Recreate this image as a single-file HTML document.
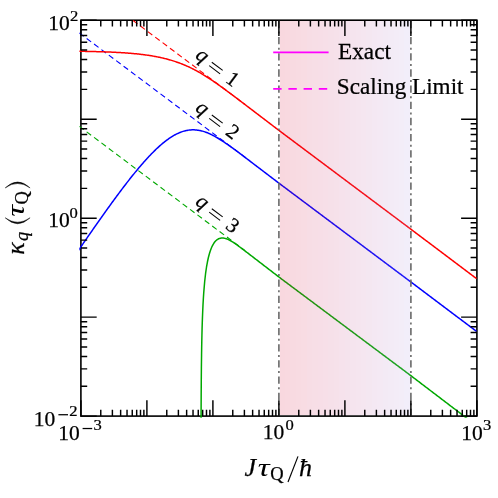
<!DOCTYPE html>
<html><head><meta charset="utf-8"><title>chart</title>
<style>
html,body{margin:0;padding:0;background:#fff;}
svg{display:block;will-change:transform;}
text{font-family:"Liberation Serif",serif;fill:#000;stroke:#000;stroke-width:0.25px;}
</style></head><body>
<svg width="498" height="498" viewBox="0 0 498 498">
<rect x="0" y="0" width="498" height="498" fill="#fff"/>
<defs><clipPath id="cp"><rect x="79.30" y="19.00" width="399.20" height="398.70"/></clipPath></defs>
<rect x="80.90" y="20.20" width="396.00" height="395.90" fill="none" stroke="#000" stroke-width="1.6"/>
<g clip-path="url(#cp)" fill="none" stroke-linejoin="round">
<g stroke-width="1.1" stroke-dasharray="5.6 3.63">
<path d="M81.36 -18.25 L245.00 104.44" stroke="#ff0000"/>
<path d="M79.28 32.97 L245.00 157.23" stroke="#0000ff"/>
<path d="M79.28 126.32 L245.00 250.58" stroke="#00a800"/>
</g>
<g stroke-width="1.5">
<path d="M79.20 51.28 L80.00 51.29 L80.79 51.30 L81.59 51.32 L82.38 51.33 L83.18 51.34 L83.98 51.36 L84.77 51.37 L85.57 51.38 L86.37 51.40 L87.16 51.41 L87.96 51.43 L88.75 51.44 L89.55 51.46 L90.35 51.48 L91.14 51.49 L91.94 51.51 L92.74 51.53 L93.53 51.55 L94.33 51.57 L95.12 51.59 L95.92 51.61 L96.72 51.63 L97.51 51.65 L98.31 51.67 L99.10 51.69 L99.90 51.72 L100.70 51.74 L101.49 51.77 L102.29 51.79 L103.09 51.82 L103.88 51.84 L104.68 51.87 L105.47 51.90 L106.27 51.93 L107.07 51.96 L107.86 51.99 L108.66 52.02 L109.46 52.05 L110.25 52.09 L111.05 52.12 L111.84 52.15 L112.64 52.19 L113.44 52.23 L114.23 52.27 L115.03 52.30 L115.82 52.34 L116.62 52.39 L117.42 52.43 L118.21 52.47 L119.01 52.52 L119.81 52.56 L120.60 52.61 L121.40 52.66 L122.19 52.71 L122.99 52.76 L123.79 52.81 L124.58 52.86 L125.38 52.92 L126.18 52.98 L126.97 53.03 L127.77 53.09 L128.56 53.16 L129.36 53.22 L130.16 53.28 L130.95 53.35 L131.75 53.42 L132.54 53.49 L133.34 53.56 L134.14 53.63 L134.93 53.71 L135.73 53.79 L136.53 53.87 L137.32 53.95 L138.12 54.04 L138.91 54.12 L139.71 54.21 L140.51 54.30 L141.30 54.40 L142.10 54.49 L142.90 54.59 L143.69 54.69 L144.49 54.79 L145.28 54.90 L146.08 55.01 L146.88 55.12 L147.67 55.24 L148.47 55.35 L149.26 55.48 L150.06 55.60 L150.86 55.73 L151.65 55.86 L152.45 55.99 L153.25 56.13 L154.04 56.27 L154.84 56.41 L155.63 56.56 L156.43 56.71 L157.23 56.87 L158.02 57.02 L158.82 57.19 L159.62 57.35 L160.41 57.52 L161.21 57.70 L162.00 57.88 L162.80 58.06 L163.60 58.25 L164.39 58.44 L165.19 58.64 L165.98 58.84 L166.78 59.05 L167.58 59.26 L168.37 59.47 L169.17 59.70 L169.97 59.92 L170.76 60.15 L171.56 60.39 L172.35 60.63 L173.15 60.88 L173.95 61.13 L174.74 61.39 L175.54 61.65 L176.34 61.92 L177.13 62.20 L177.93 62.48 L178.72 62.76 L179.52 63.06 L180.32 63.35 L181.11 63.66 L181.91 63.97 L182.71 64.29 L183.50 64.61 L184.30 64.94 L185.09 65.28 L185.89 65.62 L186.69 65.97 L187.48 66.32 L188.28 66.69 L189.07 67.05 L189.87 67.43 L190.67 67.81 L191.46 68.20 L192.26 68.59 L193.06 68.99 L193.85 69.40 L194.65 69.81 L195.44 70.23 L196.24 70.66 L197.04 71.09 L197.83 71.53 L198.63 71.98 L199.43 72.43 L200.22 72.89 L201.02 73.35 L201.81 73.82 L202.61 74.30 L203.41 74.78 L204.20 75.27 L205.00 75.76 L205.79 76.26 L206.59 76.76 L207.39 77.27 L208.18 77.79 L208.98 78.31 L209.78 78.83 L210.57 79.36 L211.37 79.89 L212.16 80.43 L212.96 80.97 L213.76 81.51 L214.55 82.06 L215.35 82.62 L216.15 83.17 L216.94 83.73 L217.74 84.29 L218.53 84.86 L219.33 85.43 L220.13 86.00 L220.92 86.57 L221.72 87.15 L222.51 87.72 L223.31 88.30 L224.11 88.88 L224.90 89.47 L225.70 90.05 L226.50 90.64 L227.29 91.23 L228.09 91.81 L228.88 92.40 L229.68 92.99 L230.48 93.59 L231.27 94.18 L232.07 94.77 L232.87 95.36 L233.66 95.96 L234.46 96.55 L235.25 97.15 L236.05 97.75 L236.85 98.36 L237.64 98.96 L238.44 99.57 L239.23 100.17 L240.03 100.78 L240.83 101.38 L241.62 101.99 L242.42 102.59 L243.22 103.20 L244.01 103.81 L244.81 104.41 L245.60 105.02 L246.40 105.62 L247.20 106.23 L247.99 106.84 L248.79 107.44 L249.59 108.05 L250.38 108.65 L251.18 109.26 L251.97 109.87 L252.77 110.47 L253.57 111.08 L254.36 111.68 L255.16 112.29 L255.95 112.90 L256.75 113.50 L257.55 114.11 L258.34 114.71 L259.14 115.32 L259.94 115.93 L260.73 116.53 L261.53 117.14 L262.32 117.74 L263.12 118.35 L263.92 118.96 L264.71 119.56 L265.51 120.17 L266.31 120.77 L267.10 121.38 L267.90 121.99 L268.69 122.59 L269.49 123.20 L270.29 123.80 L271.08 124.41 L271.88 125.02 L272.67 125.62 L273.47 126.23 L274.27 126.84 L275.06 127.44 L275.86 128.05 L276.66 128.65 L277.45 129.26 L278.25 129.87 L279.04 130.47 L279.84 131.07 L280.64 131.66 L281.43 132.26 L282.23 132.86 L283.03 133.45 L283.82 134.05 L284.62 134.64 L285.41 135.24 L286.21 135.84 L287.01 136.43 L287.80 137.03 L288.60 137.63 L289.39 138.22 L290.19 138.82 L290.99 139.41 L291.78 140.01 L292.58 140.61 L293.38 141.20 L294.17 141.80 L294.97 142.40 L295.76 142.99 L296.56 143.59 L297.36 144.18 L298.15 144.78 L298.95 145.38 L299.75 145.97 L300.54 146.57 L301.34 147.16 L302.13 147.76 L302.93 148.36 L303.73 148.95 L304.52 149.55 L305.32 150.15 L306.11 150.74 L306.91 151.34 L307.71 151.93 L308.50 152.53 L309.30 153.13 L310.10 153.72 L310.89 154.32 L311.69 154.92 L312.48 155.51 L313.28 156.11 L314.08 156.70 L314.87 157.30 L315.67 157.90 L316.47 158.49 L317.26 159.09 L318.06 159.69 L318.85 160.28 L319.65 160.88 L320.45 161.47 L321.24 162.07 L322.04 162.67 L322.83 163.26 L323.63 163.86 L324.43 164.45 L325.22 165.05 L326.02 165.65 L326.82 166.24 L327.61 166.84 L328.41 167.44 L329.20 168.03 L330.00 168.63 L330.80 169.22 L331.59 169.82 L332.39 170.42 L333.19 171.01 L333.98 171.61 L334.78 172.21 L335.57 172.80 L336.37 173.40 L337.17 173.99 L337.96 174.59 L338.76 175.19 L339.55 175.78 L340.35 176.38 L341.15 176.98 L341.94 177.57 L342.74 178.17 L343.54 178.76 L344.33 179.36 L345.13 179.96 L345.92 180.55 L346.72 181.15 L347.52 181.74 L348.31 182.34 L349.11 182.94 L349.91 183.53 L350.70 184.13 L351.50 184.73 L352.29 185.32 L353.09 185.92 L353.89 186.51 L354.68 187.11 L355.48 187.71 L356.27 188.30 L357.07 188.90 L357.87 189.50 L358.66 190.09 L359.46 190.69 L360.26 191.28 L361.05 191.88 L361.85 192.48 L362.64 193.07 L363.44 193.67 L364.24 194.27 L365.03 194.86 L365.83 195.46 L366.63 196.05 L367.42 196.65 L368.22 197.25 L369.01 197.84 L369.81 198.44 L370.61 199.03 L371.40 199.63 L372.20 200.23 L372.99 200.82 L373.79 201.42 L374.59 202.02 L375.38 202.61 L376.18 203.21 L376.98 203.80 L377.77 204.40 L378.57 205.00 L379.36 205.59 L380.16 206.19 L380.96 206.79 L381.75 207.38 L382.55 207.98 L383.35 208.57 L384.14 209.17 L384.94 209.77 L385.73 210.36 L386.53 210.96 L387.33 211.56 L388.12 212.15 L388.92 212.75 L389.72 213.34 L390.51 213.94 L391.31 214.54 L392.10 215.13 L392.90 215.73 L393.70 216.32 L394.49 216.92 L395.29 217.52 L396.08 218.11 L396.88 218.71 L397.68 219.31 L398.47 219.90 L399.27 220.50 L400.07 221.09 L400.86 221.69 L401.66 222.29 L402.45 222.88 L403.25 223.48 L404.05 224.08 L404.84 224.67 L405.64 225.27 L406.44 225.86 L407.23 226.46 L408.03 227.06 L408.82 227.65 L409.62 228.25 L410.42 228.85 L411.21 229.44 L412.01 230.04 L412.80 230.64 L413.60 231.24 L414.40 231.84 L415.19 232.44 L415.99 233.04 L416.79 233.64 L417.58 234.24 L418.38 234.83 L419.17 235.43 L419.97 236.03 L420.77 236.63 L421.56 237.23 L422.36 237.83 L423.16 238.43 L423.95 239.03 L424.75 239.63 L425.54 240.23 L426.34 240.83 L427.14 241.43 L427.93 242.02 L428.73 242.62 L429.52 243.22 L430.32 243.82 L431.12 244.42 L431.91 245.02 L432.71 245.62 L433.51 246.22 L434.30 246.82 L435.10 247.42 L435.89 248.02 L436.69 248.62 L437.49 249.21 L438.28 249.81 L439.08 250.41 L439.88 251.01 L440.67 251.61 L441.47 252.21 L442.26 252.81 L443.06 253.41 L443.86 254.01 L444.65 254.61 L445.45 255.21 L446.24 255.81 L447.04 256.40 L447.84 257.00 L448.63 257.60 L449.43 258.20 L450.23 258.80 L451.02 259.40 L451.82 260.00 L452.61 260.60 L453.41 261.20 L454.21 261.80 L455.00 262.40 L455.80 263.00 L456.60 263.59 L457.39 264.19 L458.19 264.79 L458.98 265.39 L459.78 265.99 L460.58 266.59 L461.37 267.19 L462.17 267.79 L462.96 268.39 L463.76 268.99 L464.56 269.59 L465.35 270.19 L466.15 270.78 L466.95 271.38 L467.74 271.98 L468.54 272.58 L469.33 273.18 L470.13 273.78 L470.93 274.38 L471.72 274.98 L472.52 275.58 L473.32 276.18 L474.11 276.78 L474.91 277.38 L475.70 277.97 L476.50 278.57" stroke="#ff0000"/>
<path d="M78.00 251.07 L78.80 249.91 L79.59 248.75 L80.39 247.59 L81.18 246.43 L81.98 245.27 L82.78 244.11 L83.57 242.95 L84.37 241.80 L85.17 240.64 L85.96 239.49 L86.76 238.34 L87.55 237.19 L88.35 236.04 L89.15 234.89 L89.94 233.74 L90.74 232.59 L91.54 231.45 L92.33 230.31 L93.13 229.16 L93.92 228.02 L94.72 226.88 L95.52 225.75 L96.31 224.61 L97.11 223.48 L97.90 222.34 L98.70 221.21 L99.50 220.08 L100.29 218.96 L101.09 217.83 L101.89 216.71 L102.68 215.59 L103.48 214.47 L104.27 213.35 L105.07 212.23 L105.87 211.12 L106.66 210.01 L107.46 208.90 L108.26 207.79 L109.05 206.69 L109.85 205.59 L110.64 204.49 L111.44 203.39 L112.24 202.30 L113.03 201.21 L113.83 200.12 L114.62 199.03 L115.42 197.95 L116.22 196.87 L117.01 195.79 L117.81 194.72 L118.61 193.65 L119.40 192.59 L120.20 191.52 L120.99 190.46 L121.79 189.41 L122.59 188.36 L123.38 187.31 L124.18 186.27 L124.98 185.23 L125.77 184.19 L126.57 183.16 L127.36 182.13 L128.16 181.11 L128.96 180.10 L129.75 179.08 L130.55 178.08 L131.34 177.07 L132.14 176.08 L132.94 175.08 L133.73 174.10 L134.53 173.12 L135.33 172.14 L136.12 171.17 L136.92 170.21 L137.71 169.25 L138.51 168.30 L139.31 167.35 L140.10 166.42 L140.90 165.48 L141.70 164.56 L142.49 163.64 L143.29 162.73 L144.08 161.83 L144.88 160.94 L145.68 160.05 L146.47 159.17 L147.27 158.30 L148.06 157.44 L148.86 156.59 L149.66 155.74 L150.45 154.91 L151.25 154.08 L152.05 153.26 L152.84 152.46 L153.64 151.66 L154.43 150.87 L155.23 150.10 L156.03 149.33 L156.82 148.58 L157.62 147.83 L158.42 147.10 L159.21 146.38 L160.01 145.67 L160.80 144.97 L161.60 144.29 L162.40 143.61 L163.19 142.95 L163.99 142.31 L164.78 141.67 L165.58 141.06 L166.38 140.45 L167.17 139.86 L167.97 139.28 L168.77 138.72 L169.56 138.17 L170.36 137.64 L171.15 137.12 L171.95 136.62 L172.75 136.13 L173.54 135.66 L174.34 135.21 L175.14 134.77 L175.93 134.35 L176.73 133.95 L177.52 133.57 L178.32 133.20 L179.12 132.85 L179.91 132.52 L180.71 132.21 L181.51 131.91 L182.30 131.64 L183.10 131.38 L183.89 131.14 L184.69 130.93 L185.49 130.73 L186.28 130.55 L187.08 130.39 L187.87 130.25 L188.67 130.13 L189.47 130.03 L190.26 129.95 L191.06 129.89 L191.86 129.85 L192.65 129.83 L193.45 129.83 L194.26 129.85 L195.08 129.90 L195.90 129.96 L196.72 130.04 L197.54 130.14 L198.36 130.26 L199.18 130.40 L200.00 130.56 L200.82 130.74 L201.64 130.93 L202.46 131.15 L203.28 131.38 L204.10 131.64 L204.92 131.91 L205.74 132.19 L206.56 132.50 L207.38 132.82 L208.20 133.15 L209.02 133.50 L209.84 133.87 L210.66 134.25 L211.48 134.65 L212.30 135.06 L213.12 135.48 L213.94 135.92 L214.76 136.36 L215.58 136.82 L216.40 137.29 L217.22 137.77 L218.04 138.26 L218.86 138.76 L219.68 139.27 L220.50 139.79 L221.32 140.31 L222.14 140.84 L222.96 141.38 L223.78 141.92 L224.60 142.47 L225.42 143.03 L226.24 143.59 L227.06 144.15 L227.88 144.72 L228.70 145.29 L229.52 145.86 L230.34 146.44 L231.16 147.02 L231.98 147.60 L232.80 148.19 L233.62 148.78 L234.44 149.36 L235.25 149.96 L236.05 150.56 L236.85 151.16 L237.64 151.76 L238.44 152.36 L239.23 152.96 L240.03 153.57 L240.83 154.17 L241.62 154.78 L242.42 155.38 L243.22 155.99 L244.01 156.59 L244.81 157.20 L245.60 157.80 L246.40 158.41 L247.20 159.01 L247.99 159.62 L248.79 160.22 L249.59 160.83 L250.38 161.44 L251.18 162.04 L251.97 162.65 L252.77 163.25 L253.57 163.86 L254.36 164.47 L255.16 165.07 L255.95 165.68 L256.75 166.28 L257.55 166.89 L258.34 167.50 L259.14 168.10 L259.94 168.71 L260.73 169.31 L261.53 169.92 L262.32 170.53 L263.12 171.13 L263.92 171.74 L264.71 172.35 L265.51 172.95 L266.31 173.56 L267.10 174.16 L267.90 174.77 L268.69 175.38 L269.49 175.98 L270.29 176.59 L271.08 177.19 L271.88 177.80 L272.67 178.41 L273.47 179.01 L274.27 179.62 L275.06 180.22 L275.86 180.83 L276.66 181.44 L277.45 182.04 L278.25 182.65 L279.04 183.25 L279.84 183.85 L280.64 184.45 L281.43 185.04 L282.23 185.64 L283.03 186.23 L283.82 186.83 L284.62 187.43 L285.41 188.02 L286.21 188.62 L287.01 189.22 L287.80 189.81 L288.60 190.41 L289.39 191.00 L290.19 191.60 L290.99 192.20 L291.78 192.79 L292.58 193.39 L293.38 193.99 L294.17 194.58 L294.97 195.18 L295.76 195.77 L296.56 196.37 L297.36 196.97 L298.15 197.56 L298.95 198.16 L299.75 198.75 L300.54 199.35 L301.34 199.95 L302.13 200.54 L302.93 201.14 L303.73 201.74 L304.52 202.33 L305.32 202.93 L306.11 203.52 L306.91 204.12 L307.71 204.72 L308.50 205.31 L309.30 205.91 L310.10 206.51 L310.89 207.10 L311.69 207.70 L312.48 208.29 L313.28 208.89 L314.08 209.49 L314.87 210.08 L315.67 210.68 L316.47 211.28 L317.26 211.87 L318.06 212.47 L318.85 213.06 L319.65 213.66 L320.45 214.26 L321.24 214.85 L322.04 215.45 L322.83 216.04 L323.63 216.64 L324.43 217.24 L325.22 217.83 L326.02 218.43 L326.82 219.03 L327.61 219.62 L328.41 220.22 L329.20 220.81 L330.00 221.41 L330.80 222.01 L331.59 222.60 L332.39 223.20 L333.19 223.80 L333.98 224.39 L334.78 224.99 L335.57 225.58 L336.37 226.18 L337.17 226.78 L337.96 227.37 L338.76 227.97 L339.55 228.57 L340.35 229.16 L341.15 229.76 L341.94 230.35 L342.74 230.95 L343.54 231.55 L344.33 232.14 L345.13 232.74 L345.92 233.33 L346.72 233.93 L347.52 234.53 L348.31 235.12 L349.11 235.72 L349.91 236.32 L350.70 236.91 L351.50 237.51 L352.29 238.10 L353.09 238.70 L353.89 239.30 L354.68 239.89 L355.48 240.49 L356.27 241.09 L357.07 241.68 L357.87 242.28 L358.66 242.87 L359.46 243.47 L360.26 244.07 L361.05 244.66 L361.85 245.26 L362.64 245.86 L363.44 246.45 L364.24 247.05 L365.03 247.64 L365.83 248.24 L366.63 248.84 L367.42 249.43 L368.22 250.03 L369.01 250.62 L369.81 251.22 L370.61 251.82 L371.40 252.41 L372.20 253.01 L372.99 253.61 L373.79 254.20 L374.59 254.80 L375.38 255.39 L376.18 255.99 L376.98 256.59 L377.77 257.18 L378.57 257.78 L379.36 258.38 L380.16 258.97 L380.96 259.57 L381.75 260.16 L382.55 260.76 L383.35 261.36 L384.14 261.95 L384.94 262.55 L385.73 263.15 L386.53 263.74 L387.33 264.34 L388.12 264.93 L388.92 265.53 L389.72 266.13 L390.51 266.72 L391.31 267.32 L392.10 267.92 L392.90 268.51 L393.70 269.11 L394.49 269.70 L395.29 270.30 L396.08 270.90 L396.88 271.49 L397.68 272.09 L398.47 272.68 L399.27 273.28 L400.07 273.88 L400.86 274.47 L401.66 275.07 L402.45 275.67 L403.25 276.26 L404.05 276.86 L404.84 277.45 L405.64 278.05 L406.44 278.65 L407.23 279.24 L408.03 279.84 L408.82 280.44 L409.62 281.03 L410.42 281.63 L411.21 282.22 L412.01 282.82 L412.80 283.42 L413.60 284.02 L414.40 284.62 L415.19 285.22 L415.99 285.82 L416.79 286.42 L417.58 287.02 L418.38 287.62 L419.17 288.22 L419.97 288.82 L420.77 289.41 L421.56 290.01 L422.36 290.61 L423.16 291.21 L423.95 291.81 L424.75 292.41 L425.54 293.01 L426.34 293.61 L427.14 294.21 L427.93 294.81 L428.73 295.41 L429.52 296.01 L430.32 296.60 L431.12 297.20 L431.91 297.80 L432.71 298.40 L433.51 299.00 L434.30 299.60 L435.10 300.20 L435.89 300.80 L436.69 301.40 L437.49 302.00 L438.28 302.60 L439.08 303.20 L439.88 303.79 L440.67 304.39 L441.47 304.99 L442.26 305.59 L443.06 306.19 L443.86 306.79 L444.65 307.39 L445.45 307.99 L446.24 308.59 L447.04 309.19 L447.84 309.79 L448.63 310.39 L449.43 310.98 L450.23 311.58 L451.02 312.18 L451.82 312.78 L452.61 313.38 L453.41 313.98 L454.21 314.58 L455.00 315.18 L455.80 315.78 L456.60 316.38 L457.39 316.98 L458.19 317.58 L458.98 318.17 L459.78 318.77 L460.58 319.37 L461.37 319.97 L462.17 320.57 L462.96 321.17 L463.76 321.77 L464.56 322.37 L465.35 322.97 L466.15 323.57 L466.95 324.17 L467.74 324.77 L468.54 325.36 L469.33 325.96 L470.13 326.56 L470.93 327.16 L471.72 327.76 L472.52 328.36 L473.32 328.96 L474.11 329.56 L474.91 330.16 L475.70 330.76 L476.50 331.36" stroke="#0000ff"/>
<path d="M201.00 453.71 L201.01 447.08 L201.02 440.45 L201.04 433.82 L201.05 427.20 L201.07 420.58 L201.09 413.97 L201.12 407.36 L201.15 400.77 L201.18 394.18 L201.23 387.61 L201.27 381.04 L201.33 374.50 L201.39 367.97 L201.47 361.46 L201.56 354.98 L201.66 348.52 L201.78 342.10 L201.91 335.72 L202.07 329.38 L202.26 323.10 L202.48 316.87 L202.73 310.72 L203.01 304.65 L203.35 298.68 L203.73 292.83 L203.73 292.83 L204.66 281.73 L205.59 273.46 L206.52 266.99 L207.46 261.78 L208.39 257.50 L209.32 253.94 L210.25 250.96 L211.18 248.44 L212.11 246.32 L213.04 244.54 L213.97 243.04 L214.90 241.80 L215.83 240.78 L216.76 239.95 L217.69 239.29 L218.62 238.78 L219.55 238.42 L220.49 238.17 L221.42 238.04 L222.35 238.00 L223.28 238.06 L224.21 238.19 L225.14 238.39 L226.07 238.66 L227.00 238.98 L227.93 239.36 L228.84 239.79 L229.75 240.27 L230.66 240.77 L231.57 241.31 L232.49 241.88 L233.40 242.46 L234.31 243.07 L235.22 243.69 L236.13 244.33 L237.04 244.98 L237.95 245.64 L238.86 246.31 L239.77 246.98 L240.68 247.66 L241.59 248.34 L242.50 249.03 L243.41 249.72 L244.32 250.41 L245.23 251.11 L246.14 251.81 L247.05 252.50 L247.96 253.20 L248.87 253.90 L249.79 254.60 L250.70 255.30 L251.61 256.00 L252.52 256.70 L253.43 257.40 L254.34 258.10 L255.25 258.80 L256.16 259.50 L257.07 260.20 L257.98 260.90 L258.89 261.60 L259.80 262.30 L260.71 263.00 L261.62 263.70 L262.53 264.40 L263.44 265.11 L264.35 265.81 L265.26 266.51 L266.17 267.21 L267.08 267.91 L268.00 268.61 L268.91 269.31 L269.82 270.01 L270.73 270.71 L271.64 271.41 L272.55 272.11 L273.46 272.81 L274.37 273.51 L275.28 274.21 L276.19 274.91 L277.10 275.61 L278.01 276.31 L278.92 277.01 L279.83 277.70 L280.74 278.38 L281.65 279.06 L282.56 279.74 L283.47 280.42 L284.38 281.10 L285.29 281.78 L286.21 282.46 L287.12 283.14 L288.03 283.82 L288.94 284.50 L289.85 285.18 L290.76 285.86 L291.67 286.55 L292.58 287.23 L293.49 287.91 L294.40 288.59 L295.31 289.27 L296.22 289.95 L297.13 290.63 L298.04 291.31 L298.95 291.99 L299.86 292.67 L300.77 293.35 L301.68 294.03 L302.59 294.71 L303.50 295.39 L304.42 296.07 L305.33 296.75 L306.24 297.44 L307.15 298.12 L308.06 298.80 L308.97 299.48 L309.88 300.16 L310.79 300.84 L311.70 301.52 L312.61 302.20 L313.52 302.88 L314.43 303.56 L315.34 304.24 L316.25 304.92 L317.16 305.60 L318.07 306.28 L318.98 306.96 L319.89 307.64 L320.80 308.33 L321.71 309.01 L322.63 309.69 L323.54 310.37 L324.45 311.05 L325.36 311.73 L326.27 312.41 L327.18 313.09 L328.09 313.77 L329.00 314.45 L329.91 315.13 L330.82 315.81 L331.73 316.49 L332.64 317.17 L333.55 317.85 L334.46 318.54 L335.37 319.22 L336.28 319.90 L337.19 320.58 L338.10 321.26 L339.01 321.94 L339.92 322.62 L340.84 323.30 L341.75 323.98 L342.66 324.66 L343.57 325.34 L344.48 326.02 L345.39 326.70 L346.30 327.38 L347.21 328.06 L348.12 328.74 L349.03 329.43 L349.94 330.11 L350.85 330.79 L351.76 331.47 L352.67 332.15 L353.58 332.83 L354.49 333.51 L355.40 334.19 L356.31 334.87 L357.22 335.55 L358.13 336.23 L359.05 336.91 L359.96 337.59 L360.87 338.27 L361.78 338.95 L362.69 339.63 L363.60 340.32 L364.51 341.00 L365.42 341.68 L366.33 342.36 L367.24 343.04 L368.15 343.72 L369.06 344.40 L369.97 345.08 L370.88 345.76 L371.79 346.44 L372.70 347.12 L373.61 347.80 L374.52 348.48 L375.43 349.16 L376.34 349.84 L377.26 350.52 L378.17 351.21 L379.08 351.89 L379.99 352.57 L380.90 353.25 L381.81 353.93 L382.72 354.61 L383.63 355.29 L384.54 355.97 L385.45 356.65 L386.36 357.33 L387.27 358.01 L388.18 358.69 L389.09 359.37 L390.00 360.05 L390.91 360.73 L391.82 361.42 L392.73 362.10 L393.64 362.78 L394.55 363.46 L395.47 364.14 L396.38 364.82 L397.29 365.50 L398.20 366.18 L399.11 366.86 L400.02 367.54 L400.93 368.22 L401.84 368.90 L402.75 369.58 L403.66 370.26 L404.57 370.94 L405.48 371.62 L406.39 372.31 L407.30 372.99 L408.21 373.67 L409.12 374.35 L410.03 375.03 L410.94 375.71 L411.85 376.40 L412.76 377.09 L413.68 377.79 L414.59 378.48 L415.50 379.18 L416.41 379.87 L417.32 380.56 L418.23 381.26 L419.14 381.95 L420.05 382.64 L420.96 383.34 L421.87 384.03 L422.78 384.73 L423.69 385.42 L424.60 386.11 L425.51 386.81 L426.42 387.50 L427.33 388.19 L428.24 388.89 L429.15 389.58 L430.06 390.27 L430.97 390.97 L431.89 391.66 L432.80 392.36 L433.71 393.05 L434.62 393.74 L435.53 394.44 L436.44 395.13 L437.35 395.82 L438.26 396.52 L439.17 397.21 L440.08 397.90 L440.99 398.60 L441.90 399.29 L442.81 399.99 L443.72 400.68 L444.63 401.37 L445.54 402.07 L446.45 402.76 L447.36 403.45 L448.27 404.15 L449.18 404.84 L450.10 405.54 L451.01 406.23 L451.92 406.92 L452.83 407.62 L453.74 408.31 L454.65 409.00 L455.56 409.70 L456.47 410.39 L457.38 411.08 L458.29 411.78 L459.20 412.47 L460.11 413.17 L461.02 413.86 L461.93 414.55 L462.84 415.25 L463.75 415.94 L464.66 416.63 L465.57 417.32 L466.48 418.00 L467.39 418.69 L468.31 419.37 L469.22 420.05 L470.13 420.73 L471.04 421.42 L471.95 422.10 L472.86 422.78 L473.77 423.46 L474.68 424.15 L475.59 424.83 L476.50 425.51" stroke="#00a800"/>
</g>
</g>
<g shape-rendering="crispEdges">
<rect x="279.60" y="20.90" width="5.43" height="394.50" fill="rgb(219,23,63)" fill-opacity="0.17"/>
<rect x="285.03" y="20.90" width="5.43" height="394.50" fill="rgb(217,28,70)" fill-opacity="0.17"/>
<rect x="290.45" y="20.90" width="5.42" height="394.50" fill="rgb(216,34,77)" fill-opacity="0.17"/>
<rect x="295.88" y="20.90" width="5.43" height="394.50" fill="rgb(214,40,84)" fill-opacity="0.17"/>
<rect x="301.30" y="20.90" width="5.43" height="394.50" fill="rgb(212,45,91)" fill-opacity="0.17"/>
<rect x="306.73" y="20.90" width="5.43" height="394.50" fill="rgb(210,51,98)" fill-opacity="0.17"/>
<rect x="312.15" y="20.90" width="5.43" height="394.50" fill="rgb(209,57,105)" fill-opacity="0.17"/>
<rect x="317.58" y="20.90" width="5.42" height="394.50" fill="rgb(207,62,112)" fill-opacity="0.17"/>
<rect x="323.00" y="20.90" width="5.43" height="394.50" fill="rgb(205,68,119)" fill-opacity="0.17"/>
<rect x="328.43" y="20.90" width="5.43" height="394.50" fill="rgb(203,73,126)" fill-opacity="0.17"/>
<rect x="333.85" y="20.90" width="5.43" height="394.50" fill="rgb(202,79,133)" fill-opacity="0.17"/>
<rect x="339.28" y="20.90" width="5.43" height="394.50" fill="rgb(200,85,140)" fill-opacity="0.17"/>
<rect x="344.70" y="20.90" width="5.42" height="394.50" fill="rgb(198,90,146)" fill-opacity="0.17"/>
<rect x="350.12" y="20.90" width="5.43" height="394.50" fill="rgb(196,96,153)" fill-opacity="0.17"/>
<rect x="355.55" y="20.90" width="5.43" height="394.50" fill="rgb(195,102,160)" fill-opacity="0.17"/>
<rect x="360.98" y="20.90" width="5.43" height="394.50" fill="rgb(193,107,167)" fill-opacity="0.17"/>
<rect x="366.40" y="20.90" width="5.42" height="394.50" fill="rgb(191,113,174)" fill-opacity="0.17"/>
<rect x="371.82" y="20.90" width="5.43" height="394.50" fill="rgb(189,118,181)" fill-opacity="0.17"/>
<rect x="377.25" y="20.90" width="5.43" height="394.50" fill="rgb(188,124,188)" fill-opacity="0.17"/>
<rect x="382.68" y="20.90" width="5.43" height="394.50" fill="rgb(186,130,195)" fill-opacity="0.17"/>
<rect x="388.10" y="20.90" width="5.43" height="394.50" fill="rgb(184,135,202)" fill-opacity="0.17"/>
<rect x="393.53" y="20.90" width="5.42" height="394.50" fill="rgb(182,141,209)" fill-opacity="0.17"/>
<rect x="398.95" y="20.90" width="5.43" height="394.50" fill="rgb(181,147,216)" fill-opacity="0.17"/>
<rect x="404.38" y="20.90" width="5.43" height="394.50" fill="rgb(179,152,223)" fill-opacity="0.17"/>
</g>
<g fill="none" stroke="#686868" stroke-width="1.6" stroke-dasharray="7.3 3.43 2 3.435">
<path d="M278.90 416.10 V20.20"/>
<path d="M410.90 416.10 V20.20"/>
</g>
<g fill="none" stroke="#000" stroke-width="1.45">
<path d="M80.90 416.10 V400.30 M80.90 20.20 V36.00 M100.77 416.10 V409.80 M100.77 20.20 V26.50 M112.39 416.10 V409.80 M112.39 20.20 V26.50 M120.64 416.10 V409.80 M120.64 20.20 V26.50 M127.03 416.10 V409.80 M127.03 20.20 V26.50 M132.26 416.10 V409.80 M132.26 20.20 V26.50 M136.68 416.10 V409.80 M136.68 20.20 V26.50 M140.50 416.10 V409.80 M140.50 20.20 V26.50 M143.88 416.10 V409.80 M143.88 20.20 V26.50 M146.90 416.10 V400.30 M146.90 20.20 V36.00 M166.77 416.10 V409.80 M166.77 20.20 V26.50 M178.39 416.10 V409.80 M178.39 20.20 V26.50 M186.64 416.10 V409.80 M186.64 20.20 V26.50 M193.03 416.10 V409.80 M193.03 20.20 V26.50 M198.26 416.10 V409.80 M198.26 20.20 V26.50 M202.68 416.10 V409.80 M202.68 20.20 V26.50 M206.50 416.10 V409.80 M206.50 20.20 V26.50 M209.88 416.10 V409.80 M209.88 20.20 V26.50 M212.90 416.10 V400.30 M212.90 20.20 V36.00 M232.77 416.10 V409.80 M232.77 20.20 V26.50 M244.39 416.10 V409.80 M244.39 20.20 V26.50 M252.64 416.10 V409.80 M252.64 20.20 V26.50 M259.03 416.10 V409.80 M259.03 20.20 V26.50 M264.26 416.10 V409.80 M264.26 20.20 V26.50 M268.68 416.10 V409.80 M268.68 20.20 V26.50 M272.50 416.10 V409.80 M272.50 20.20 V26.50 M275.88 416.10 V409.80 M275.88 20.20 V26.50 M278.90 416.10 V400.30 M278.90 20.20 V36.00 M298.77 416.10 V409.80 M298.77 20.20 V26.50 M310.39 416.10 V409.80 M310.39 20.20 V26.50 M318.64 416.10 V409.80 M318.64 20.20 V26.50 M325.03 416.10 V409.80 M325.03 20.20 V26.50 M330.26 416.10 V409.80 M330.26 20.20 V26.50 M334.68 416.10 V409.80 M334.68 20.20 V26.50 M338.50 416.10 V409.80 M338.50 20.20 V26.50 M341.88 416.10 V409.80 M341.88 20.20 V26.50 M344.90 416.10 V400.30 M344.90 20.20 V36.00 M364.77 416.10 V409.80 M364.77 20.20 V26.50 M376.39 416.10 V409.80 M376.39 20.20 V26.50 M384.64 416.10 V409.80 M384.64 20.20 V26.50 M391.03 416.10 V409.80 M391.03 20.20 V26.50 M396.26 416.10 V409.80 M396.26 20.20 V26.50 M400.68 416.10 V409.80 M400.68 20.20 V26.50 M404.50 416.10 V409.80 M404.50 20.20 V26.50 M407.88 416.10 V409.80 M407.88 20.20 V26.50 M410.90 416.10 V400.30 M410.90 20.20 V36.00 M430.77 416.10 V409.80 M430.77 20.20 V26.50 M442.39 416.10 V409.80 M442.39 20.20 V26.50 M450.64 416.10 V409.80 M450.64 20.20 V26.50 M457.03 416.10 V409.80 M457.03 20.20 V26.50 M462.26 416.10 V409.80 M462.26 20.20 V26.50 M466.68 416.10 V409.80 M466.68 20.20 V26.50 M470.50 416.10 V409.80 M470.50 20.20 V26.50 M473.88 416.10 V409.80 M473.88 20.20 V26.50 M476.90 416.10 V400.30 M476.90 20.20 V36.00 M80.90 416.10 H96.70 M476.90 416.10 H461.10 M80.90 386.31 H87.20 M476.90 386.31 H470.60 M80.90 368.88 H87.20 M476.90 368.88 H470.60 M80.90 356.51 H87.20 M476.90 356.51 H470.60 M80.90 346.92 H87.20 M476.90 346.92 H470.60 M80.90 339.08 H87.20 M476.90 339.08 H470.60 M80.90 332.46 H87.20 M476.90 332.46 H470.60 M80.90 326.72 H87.20 M476.90 326.72 H470.60 M80.90 321.65 H87.20 M476.90 321.65 H470.60 M80.90 317.12 H96.70 M476.90 317.12 H461.10 M80.90 287.33 H87.20 M476.90 287.33 H470.60 M80.90 269.90 H87.20 M476.90 269.90 H470.60 M80.90 257.54 H87.20 M476.90 257.54 H470.60 M80.90 247.94 H87.20 M476.90 247.94 H470.60 M80.90 240.11 H87.20 M476.90 240.11 H470.60 M80.90 233.48 H87.20 M476.90 233.48 H470.60 M80.90 227.74 H87.20 M476.90 227.74 H470.60 M80.90 222.68 H87.20 M476.90 222.68 H470.60 M80.90 218.15 H96.70 M476.90 218.15 H461.10 M80.90 188.36 H87.20 M476.90 188.36 H470.60 M80.90 170.93 H87.20 M476.90 170.93 H470.60 M80.90 158.56 H87.20 M476.90 158.56 H470.60 M80.90 148.97 H87.20 M476.90 148.97 H470.60 M80.90 141.13 H87.20 M476.90 141.13 H470.60 M80.90 134.51 H87.20 M476.90 134.51 H470.60 M80.90 128.77 H87.20 M476.90 128.77 H470.60 M80.90 123.70 H87.20 M476.90 123.70 H470.60 M80.90 119.18 H96.70 M476.90 119.18 H461.10 M80.90 89.38 H87.20 M476.90 89.38 H470.60 M80.90 71.95 H87.20 M476.90 71.95 H470.60 M80.90 59.59 H87.20 M476.90 59.59 H470.60 M80.90 49.99 H87.20 M476.90 49.99 H470.60 M80.90 42.16 H87.20 M476.90 42.16 H470.60 M80.90 35.53 H87.20 M476.90 35.53 H470.60 M80.90 29.79 H87.20 M476.90 29.79 H470.60 M80.90 24.73 H87.20 M476.90 24.73 H470.60 M80.90 20.20 H96.70 M476.90 20.20 H461.10"/>
</g>
<!-- legend -->
<path d="M273.2 52.3 H328.6" stroke="#ff00ff" stroke-width="1.8" fill="none"/>
<path d="M273.2 88.8 H328.6" stroke="#ff00ff" stroke-width="1.8" fill="none" stroke-dasharray="8.4 6.8"/>
<text transform="translate(338.0 59.3) scale(1.03 1)" font-size="22.6" class="b">Exact</text>
<text transform="translate(336.8 94.3) scale(1.025 1)" font-size="22.6" class="b">Scaling Limit</text>
<text x="48.30" y="30.10" font-size="21.50">10</text><text transform="translate(69.90 20.70) scale(1.150 1)" font-size="14.40">2</text>
<text x="48.30" y="227.00" font-size="21.50">10</text><text transform="translate(69.40 217.60) scale(1.150 1)" font-size="14.40">0</text>
<text x="33.80" y="425.80" font-size="21.50">10</text><rect x="58.40" y="414.10" width="9.60" height="1.25" fill="#000"/><text transform="translate(69.20 416.40) scale(1.150 1)" font-size="14.40">2</text>
<text x="58.20" y="439.60" font-size="21.50">10</text><rect x="82.60" y="427.90" width="9.60" height="1.25" fill="#000"/><text transform="translate(93.50 430.20) scale(1.150 1)" font-size="14.40">3</text>
<text x="262.80" y="439.40" font-size="21.50">10</text><text transform="translate(285.60 430.00) scale(1.150 1)" font-size="14.40">0</text>
<text x="461.30" y="439.60" font-size="21.50">10</text><text transform="translate(483.00 430.20) scale(1.150 1)" font-size="14.40">3</text>
<g transform="translate(194.40 57.30) rotate(36.87)"><text x="0" y="0" font-size="21" font-style="italic">q</text><rect x="16.9" y="-7.0" width="13.6" height="1.05"/><rect x="16.9" y="-2.7" width="13.6" height="1.05"/><text x="38.4" y="1.1" font-size="21">1</text></g><g transform="translate(194.40 110.00) rotate(36.87)"><text x="0" y="0" font-size="21" font-style="italic">q</text><rect x="16.9" y="-7.0" width="13.6" height="1.05"/><rect x="16.9" y="-2.7" width="13.6" height="1.05"/><text x="38.4" y="1.1" font-size="21">2</text></g><g transform="translate(194.40 203.80) rotate(36.87)"><text x="0" y="0" font-size="21" font-style="italic">q</text><rect x="16.9" y="-7.0" width="13.6" height="1.05"/><rect x="16.9" y="-2.7" width="13.6" height="1.05"/><text x="38.4" y="1.1" font-size="21">3</text></g>
<!-- x label -->
<g font-size="26">
<text x="244.5" y="475.8" font-style="italic">J</text>
<text transform="translate(257.8 475.8) scale(1.27 1)" font-style="italic" style="stroke-width:0">τ</text>
<text x="270.3" y="479.6" font-size="18.5">Q</text>
<path d="M288.0 482.0 L298.0 456.4" stroke="#000" stroke-width="1.15" fill="none"/>
<text x="299.0" y="475.8" font-style="italic">ħ</text>
</g>
<!-- y label -->
<g transform="translate(24.1 255.6) rotate(-90)" font-size="26">
<text x="0.8" y="0" font-style="italic">κ</text>
<text x="14.6" y="4.2" font-size="18.5" font-style="italic">q</text>
<text transform="translate(38.9 0) scale(1.27 1)" font-style="italic" style="stroke-width:0">τ</text>
<text x="51.0" y="3.8" font-size="18.5">Q</text>
</g>
<g fill="#000" stroke="#000" stroke-width="0.45" stroke-linejoin="round">
<path d="M5.2 217.8 Q17.6 229.7 30.1 217.8 Q17.6 226.6 5.2 217.8 Z"/>
<path d="M5.2 187.9 Q17.6 176.0 30.1 187.9 Q17.6 179.1 5.2 187.9 Z"/>
</g>
</svg>
</body></html>
